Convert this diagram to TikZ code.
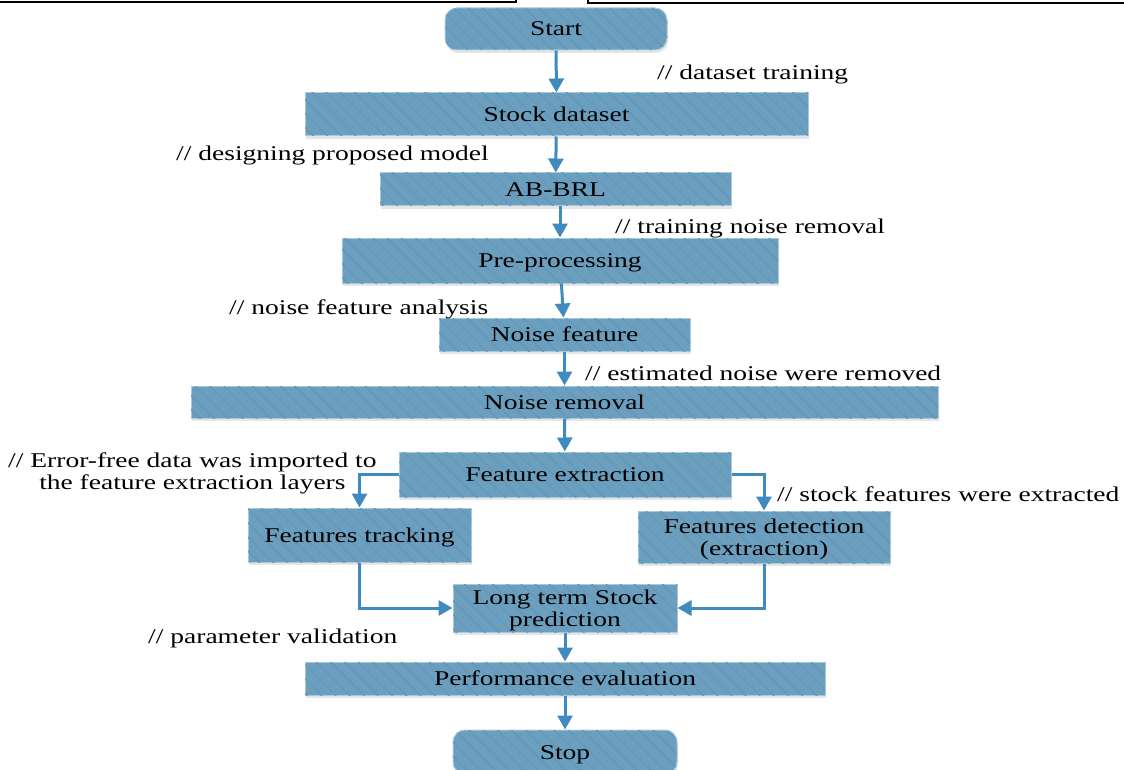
\documentclass[tikz,border=0pt]{standalone}
\usepackage{fontspec}
\setmainfont{Liberation Serif}[FakeStretch=1.31]
\usepackage{tikz}
\usetikzlibrary{arrows.meta,patterns.meta,shadows,positioning}
\definecolor{caixa}{HTML}{6C9FBE}
\definecolor{listra}{HTML}{6198BD}
\definecolor{borda}{HTML}{A9C9DD}
\definecolor{seta}{HTML}{3F8ABF}

\begin{document}
\begin{tikzpicture}[x=1pt,y=-1pt,
  proc/.style={draw=borda,line width=1pt,fill=caixa,
               postaction={pattern={Lines[angle=-45,distance=10pt,line width=1.2pt]},pattern color=listra},
               drop shadow={shadow xshift=1pt,shadow yshift=-3pt,fill=black!20},
               inner sep=0pt,align=center,text height=14pt,text depth=0pt,
               font=\fontsize{21}{22}\selectfont},
  twoline/.style={text height={}},
  term/.style={proc,rounded corners=12pt},
  note/.style={anchor=west,inner sep=0pt,align=center,font=\fontsize{21}{22}\selectfont},
  arr/.style={-{Triangle[length=14pt,width=15pt]},draw=seta,line width=3pt}
]
  \useasboundingbox (0,0) rectangle (1124,770);
  % page edges left over at the top
  \draw[line width=2pt] (0,2.5) -- (516,2.5) -- (516,-2);
  \draw[line width=2pt] (588,-2) -- (588,3.5) -- (1124,3.5);

  \node[term,minimum width=222pt,minimum height=42pt] (start) at (556,29) {Start};
  \node[proc,minimum width=503pt,minimum height=43pt] (dataset) at (556.5,114.5) {Stock dataset};
  \node[proc,minimum width=351pt,minimum height=33pt] (abbrl) at (555.5,189.5) {AB-BRL};
  \node[proc,minimum width=436pt,minimum height=45pt] (pre) at (560,260.5) {Pre-processing};
  \node[proc,minimum width=251pt,minimum height=33pt] (noisefeat) at (564.5,334.5) {Noise feature};
  \node[proc,minimum width=747pt,minimum height=32pt] (removal) at (564.5,402) {Noise removal};
  \node[proc,minimum width=332pt,minimum height=45pt] (extract) at (565,474.5) {Feature extraction};
  \node[proc,minimum width=223pt,minimum height=54pt] (track) at (359.5,535) {Features tracking};
  \node[proc,twoline,minimum width=252pt,minimum height=52pt] (detect) at (764,537) {Features detection\\(extraction)};
  \node[proc,twoline,minimum width=224pt,minimum height=48pt] (predict) at (565,608) {Long term Stock\\prediction};
  \node[proc,minimum width=520pt,minimum height=33pt] (perf) at (565,678.5) {Performance evaluation};
  \node[term,minimum width=224pt,minimum height=44pt] (stop) at (565,752) {Stop};

  \node[note] (ntrain) at (657,74) {// dataset training};
  \node[note] (ndesign) at (176,155) {// designing proposed model};
  \node[note] (nnoise) at (615,228) {// training noise removal};
  \node[note] (nanalysis) at (229,309) {// noise feature analysis};
  \node[note] (nestim) at (585,373) {// estimated noise were removed};
  \node[note] (nimport) at (8,473) {// Error-free data was imported to\\the feature extraction layers};
  \node[note] (nstock) at (777,494) {// stock features were extracted};
  \node[note] (nparam) at (148,638) {// parameter validation};

  \draw[arr] (start) -- (dataset);
  \draw[arr] (dataset) -- (abbrl);
  \draw[arr] (abbrl.south -| pre.north) -- (pre.north);
  \draw[arr] (pre) -- (noisefeat);
  \draw[arr] (noisefeat) -- (removal);
  \draw[arr] (removal) -- (extract);
  \draw[arr] (extract.west) -| (track.north);
  \draw[arr] (extract.east) -| (detect.north);
  \draw[arr] (track.south) |- (predict.west);
  \draw[arr] (detect.south) |- (predict.east);
  \draw[arr] (predict) -- (perf);
  \draw[arr] (perf) -- (stop);
\end{tikzpicture}
\end{document}
